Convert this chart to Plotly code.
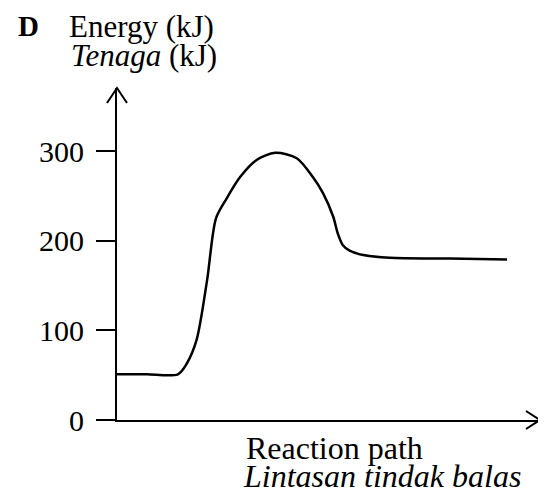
import plotly.graph_objects as go

# Reaction path (arbitrary units, 0-100 across the axis) and energy (kJ)
path_pos = [0, 7.0, 14.4, 16.5, 18.8, 21.3, 23.4, 25.9, 29.1, 33.0, 37.4,
            42.5, 46.3, 48.7, 51.1, 52.2, 53.4, 55.0, 58.2, 64.5, 78.7, 92.2]
energy = [51, 51, 51, 63, 89, 156, 225, 247, 271, 290, 298,
          292, 271, 253, 227, 208, 195, 189, 184, 181, 180, 179]

y_ticks = [0, 100, 200, 300]
y_tick_labels = ["0", "100", "200", "300"]

OFF = 8  # default page margin around the plot div
W, H = 546 - OFF, 501 - OFF
L, R, T, B = 109, 6, 80, 81
PW, PH = W - L - R, H - T - B
Y_TOP = 370.3

FONT = "Liberation Serif, Times New Roman, serif"


def px(x):
    return (x - OFF - L) / PW


def py(y):
    return (H - B - (y - OFF)) / PH


fig = go.Figure()
fig.add_trace(go.Scatter(
    x=path_pos, y=energy, mode="lines",
    line=dict(color="black", width=2.5, shape="spline", smoothing=0.8),
    hoverinfo="skip", showlegend=False,
))

fig.update_layout(
    width=W, height=H,
    margin=dict(l=L, r=R, t=T, b=B),
    paper_bgcolor="white", plot_bgcolor="white",
    font=dict(family=FONT, size=31, color="black"),
    xaxis=dict(range=[0, 100], showline=True, linecolor="black", linewidth=2,
               showgrid=False, zeroline=False, showticklabels=False, ticks=""),
    yaxis=dict(range=[0, Y_TOP], showline=True, linecolor="black", linewidth=2,
               showgrid=False, zeroline=False, tickmode="array",
               tickvals=y_ticks, ticktext=y_tick_labels, ticks="outside",
               ticklen=19, tickwidth=2, tickcolor="black",
               ticklabelstandoff=6,
               tickfont=dict(family=FONT, size=30, color="black")),
    shapes=[
        dict(type="path", xref="paper", yref="paper", xsizemode="pixel", ysizemode="pixel",
             xanchor=1, yanchor=0, path="M -14 9 L 0 0 L -14 -9",
             line=dict(color="black", width=2)),
        dict(type="path", xref="paper", yref="paper", xsizemode="pixel", ysizemode="pixel",
             xanchor=0, yanchor=1, path="M -10 -15 L 0 0 L 10 -15",
             line=dict(color="black", width=2)),
    ],
    annotations=[
        dict(text="<b>D</b>", xref="paper", yref="paper", x=px(16), y=py(26),
             xanchor="left", yanchor="middle", showarrow=False,
             font=dict(family=FONT, size=29, color="black")),
        dict(text="Energy (kJ)", xref="paper", yref="paper", x=px(67), y=py(27),
             xanchor="left", yanchor="middle", showarrow=False),
        dict(text="<i>Tenaga</i> (kJ)", xref="paper", yref="paper", x=px(69), y=py(56),
             xanchor="left", yanchor="middle", showarrow=False),
        dict(text="Reaction path", xref="paper", yref="paper", x=px(244), y=py(448),
             xanchor="left", yanchor="middle", showarrow=False,
             font=dict(family=FONT, size=32, color="black")),
        dict(text="<i>Lintasan tindak balas</i>", xref="paper", yref="paper", x=px(241), y=py(476),
             xanchor="left", yanchor="middle", showarrow=False,
             font=dict(family=FONT, size=32, color="black")),
    ],
)

fig.write_html("out.html")
